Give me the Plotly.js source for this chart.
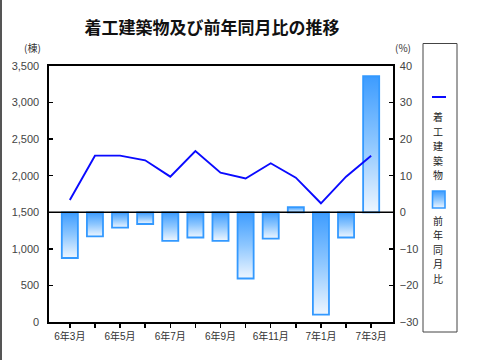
<!DOCTYPE html>
<html>
<head>
<meta charset="utf-8">
<script src="https://cdn.plot.ly/plotly-3.0.1.min.js"></script>
<style>
  html, body { margin: 0; padding: 0; background: #fff; }
  #chart { width: 480px; height: 360px; }
</style>
</head>
<body>
<div id="chart"></div>
<script>
// ---- data ----
const months = ['6年3月','6年4月','6年5月','6年6月','6年7月','6年8月','6年9月','6年10月','6年11月','6年12月','7年1月','7年2月','7年3月'];
const buildings = [1668, 2274, 2274, 2211, 1987, 2338, 2041, 1962, 2170, 1973, 1623, 1987, 2274];
const yoyChange = [-12.5, -6.6, -4.2, -3.2, -7.8, -6.9, -7.8, -18.1, -7.2, 1.4, -28.0, -6.9, 37.2];
const xTickText = ['6年3月','','6年5月','','6年7月','','6年9月','','6年11月','','7年1月','','7年3月'];
const seriesLine = '着工建築物';
const seriesBar = '前年同月比';
const titleText = '着工建築物及び前年同月比の推移';

// ---- layout geometry (pixels) ----
const W = 480, H = 360;
const L = 49, R = 87, T = 66, B = 38;
const PW = W - L - R, PH = H - T - B;
const px = x => (x - L) / PW;
const py = y => (T + PH - y) / PH;

const FONT = 'Liberation Sans, Arial, Noto Sans CJK JP, sans-serif';
const CJK = 'Noto Sans CJK JP, sans-serif';

const traces = [
  {
    type: 'bar', x: months, y: yoyChange, name: seriesBar,
    xaxis: 'x', yaxis: 'y', width: 0.64,
    marker: { color: '#8cc6ff', line: { color: '#3399ff', width: 1.8 } },
    hoverinfo: 'skip'
  },
  {
    type: 'scatter', mode: 'lines', x: months, y: buildings, name: seriesLine,
    xaxis: 'x', yaxis: 'y2',
    line: { color: '#0a0aff', width: 1.9 },
    hoverinfo: 'skip'
  }
];

const annotations = [
  { text: '(棟)', xref: 'paper', yref: 'paper', x: px(32), y: py(47), showarrow: false,
    font: { size: 10, color: '#333', family: CJK }, xanchor: 'center', yanchor: 'middle' },
  { text: '(%)', xref: 'paper', yref: 'paper', x: px(403), y: py(47), showarrow: false,
    font: { size: 10, color: '#333', family: CJK }, xanchor: 'center', yanchor: 'middle' }
];
function addVertical(str, x, y0, step) {
  Array.from(str).forEach((ch, i) => {
    annotations.push({ text: ch, xref: 'paper', yref: 'paper', x: px(x), y: py(y0 + i * step),
      showarrow: false, xanchor: 'center', yanchor: 'middle',
      font: { size: 10, color: '#222', family: CJK } });
  });
}
addVertical(seriesLine, 438.5, 116.5, 14.6);
addVertical(seriesBar, 438.5, 220, 14.6);

const shapes = [
  // zero line of the percent axis
  { type: 'line', xref: 'paper', yref: 'y', x0: 0, x1: 1, y0: 0, y1: 0,
    line: { color: '#000', width: 1.6 }, layer: 'above' },
  // legend box
  { type: 'rect', xref: 'paper', yref: 'paper', x0: px(423), x1: px(457), y0: py(43.5), y1: py(332),
    line: { color: '#444', width: 1 }, fillcolor: 'rgba(0,0,0,0)' },
  // legend line symbol
  { type: 'line', xref: 'paper', yref: 'paper', x0: px(432), x1: px(446), y0: py(97), y1: py(97),
    line: { color: '#0a0aff', width: 2 } },
  // legend bar symbol
  { type: 'rect', xref: 'paper', yref: 'paper', x0: px(432.5), x1: px(445), y0: py(191), y1: py(208),
    line: { color: '#3399ff', width: 1.6 }, fillcolor: '#8cc6ff' },
  // left frame line of the picture
  { type: 'line', xref: 'paper', yref: 'paper', x0: px(1), x1: px(1), y0: py(0), y1: py(360),
    line: { color: '#555', width: 2 } }
];

const layout = {
  width: W, height: H,
  margin: { l: L, r: R, t: T, b: B, pad: 0 },
  paper_bgcolor: '#fff', plot_bgcolor: '#fff',
  showlegend: false,
  title: {
    text: '<b>' + titleText + '</b>',
    xref: 'container', yref: 'container', x: 212 / W, y: 1 - 28 / H,
    xanchor: 'center', yanchor: 'middle',
    font: { size: 17, color: '#111', family: CJK }
  },
  xaxis: {
    type: 'category', range: [-0.83, 12.87],
    tickvals: months, ticktext: xTickText,
    ticks: 'outside', ticklen: 4, tickwidth: 1.5, tickcolor: '#000',
    showline: true, linecolor: '#000', linewidth: 1.6, mirror: true,
    showgrid: false, zeroline: false,
    tickfont: { size: 10, color: '#333', family: FONT }
  },
  yaxis: {
    side: 'right', range: [-30, 40], dtick: 10, tick0: 0,
    ticks: 'inside', ticklen: 4, tickwidth: 1.5, tickcolor: '#000',
    showline: true, linecolor: '#000', linewidth: 1.6,
    showgrid: false, zeroline: false, ticklabelstandoff: 3,
    tickfont: { size: 11, color: '#444', family: FONT }
  },
  yaxis2: {
    overlaying: 'y', side: 'left', range: [0, 3500], dtick: 500, tick0: 0,
    tickformat: ',d',
    ticks: 'inside', ticklen: 4, tickwidth: 1.5, tickcolor: '#000',
    showline: true, linecolor: '#000', linewidth: 1.6,
    showgrid: false, zeroline: false, ticklabelstandoff: 6,
    tickfont: { size: 11, color: '#444', family: FONT }
  },
  annotations: annotations,
  shapes: shapes
};

function applyGradient(gd) {
  const svg = gd.querySelector('svg.main-svg');
  if (!svg) return;
  const NS = 'http://www.w3.org/2000/svg';
  let defs = svg.querySelector('defs');
  if (!defs) { defs = document.createElementNS(NS, 'defs'); svg.insertBefore(defs, svg.firstChild); }
  const grad = document.createElementNS(NS, 'linearGradient');
  grad.setAttribute('id', 'bargrad');
  grad.setAttribute('x1', '0'); grad.setAttribute('y1', '0');
  grad.setAttribute('x2', '0'); grad.setAttribute('y2', '1');
  [['0', '#3d9cff'], ['0.5', '#8ec7ff'], ['1', '#eef6ff']].forEach(([o, c]) => {
    const s = document.createElementNS(NS, 'stop');
    s.setAttribute('offset', o); s.setAttribute('stop-color', c);
    grad.appendChild(s);
  });
  defs.appendChild(grad);
  gd.querySelectorAll('.barlayer .point path').forEach(p => { p.style.fill = 'url(#bargrad)'; });
  gd.querySelectorAll('.shapelayer path').forEach(p => {
    if (p.style.fill && p.style.fill.indexOf('140, 198, 255') >= 0) p.style.fill = 'url(#bargrad)';
  });
}

Plotly.newPlot('chart', traces, layout, { staticPlot: true, displayModeBar: false })
  .then(applyGradient);
</script>
</body>
</html>
